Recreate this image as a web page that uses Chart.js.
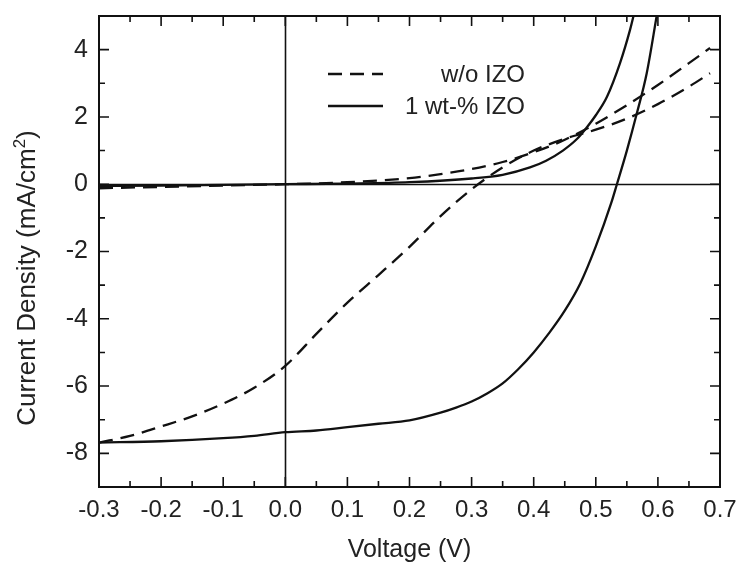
<!DOCTYPE html>
<html>
<head>
<meta charset="utf-8">
<script src="https://cdn.jsdelivr.net/npm/chart.js@4"></script>
<style>
  body { margin: 0; background: #fff; }
  canvas { display: block; }
</style>
</head>
<body>
<canvas id="jv" width="738" height="563"></canvas>
<script>
// tick values
const xTicks = [-0.3, -0.2, -0.1, 0.0, 0.1, 0.2, 0.3, 0.4, 0.5, 0.6, 0.7];
const yTicks = [-8, -6, -4, -2, 0, 2, 4];

// w/o IZO, dark
const darkRefV = [-0.3, -0.2, -0.1, 0, 0.1, 0.2, 0.25, 0.3, 0.35, 0.4, 0.45, 0.5, 0.55, 0.6, 0.65, 0.684];
const darkRefJ = [-0.12, -0.08, -0.04, 0, 0.06, 0.18, 0.3, 0.45, 0.66, 0.95, 1.32, 1.8, 2.35, 2.95, 3.6, 4.05];

// w/o IZO, illuminated
const lightRefV = [-0.3, -0.25, -0.2, -0.15, -0.1, -0.05, 0, 0.05, 0.1, 0.15, 0.2, 0.25, 0.3, 0.35, 0.4, 0.45, 0.5, 0.55, 0.6, 0.65, 0.684];
const lightRefJ = [-7.68, -7.48, -7.2, -6.9, -6.52, -6.05, -5.4, -4.45, -3.52, -2.7, -1.86, -0.95, -0.15, 0.5, 1.0, 1.35, 1.62, 1.95, 2.38, 2.9, 3.3];

// 1 wt-% IZO, dark
const darkIzoV = [-0.3, -0.2, -0.1, 0, 0.1, 0.2, 0.3, 0.35, 0.394, 0.42, 0.447, 0.47, 0.486, 0.5, 0.518, 0.539, 0.555, 0.562, 0.572];
const darkIzoJ = [-0.05, -0.04, -0.02, 0, 0.02, 0.06, 0.17, 0.28, 0.5, 0.7, 1.0, 1.35, 1.7, 2.05, 2.6, 3.6, 4.58, 5.1, 5.9];

// 1 wt-% IZO, illuminated
const lightIzoV = [-0.3, -0.2, -0.1, -0.05, 0, 0.05, 0.1, 0.15, 0.2, 0.25, 0.275, 0.3, 0.325, 0.35, 0.375, 0.4, 0.425, 0.45, 0.475, 0.5, 0.525, 0.534, 0.55, 0.566, 0.582, 0.598, 0.61];
const lightIzoJ = [-7.68, -7.64, -7.55, -7.48, -7.37, -7.32, -7.22, -7.12, -7.02, -6.79, -6.64, -6.46, -6.22, -5.92, -5.5, -5.0, -4.42, -3.76, -2.95, -1.85, -0.55, 0, 1.0, 2.1, 3.3, 5.0, 6.3];

const legendNames = ['w/o IZO', '1 wt-% IZO'];

const ink = '#111';
const textInk = '#222';
const dash = [14, 8];
const fontFam = '"Liberation Sans", Arial, sans-serif';

function pts(vs, js) {
    return vs.map((v, i) => ({ x: v, y: js[i] }));
}

function line(vs, js, dashed) {
    return {
        data: pts(vs, js),
        showLine: true,
        borderColor: ink,
        borderWidth: 2.3,
        borderDash: dashed ? dash : [],
        pointRadius: 0,
        cubicInterpolationMode: 'monotone',
        fill: false
    };
}

/* -------- frame, zero lines, ticks, legend, y title -------- */
const framePlugin = {
    id: 'frame',
    beforeDatasetsDraw(chart) {
        const { ctx, chartArea: a, scales: { x, y } } = chart;
        ctx.save();
        ctx.strokeStyle = ink;
        ctx.lineWidth = 1.6;
        const x0 = Math.round(x.getPixelForValue(0)) + 0.5;
        const y0 = Math.round(y.getPixelForValue(0)) + 0.5;
        ctx.beginPath();
        ctx.moveTo(x0, a.top); ctx.lineTo(x0, a.bottom);
        ctx.moveTo(a.left, y0); ctx.lineTo(a.right, y0);
        ctx.stroke();
        ctx.restore();
    },
    afterDraw(chart) {
        const { ctx, chartArea: a, scales: { x, y } } = chart;
        ctx.save();
        ctx.strokeStyle = ink;
        ctx.lineWidth = 2;
        ctx.strokeRect(a.left, a.top, a.right - a.left, a.bottom - a.top);

        ctx.lineWidth = 1.6;
        ctx.beginPath();
        // x ticks every 0.05, major every 0.1
        for (let i = -6; i <= 14; i++) {
            const px = x.getPixelForValue(i * 0.05);
            const len = i % 2 === 0 ? 10 : 6;
            ctx.moveTo(px, a.bottom); ctx.lineTo(px, a.bottom - len);
            ctx.moveTo(px, a.top); ctx.lineTo(px, a.top + len);
        }
        // y ticks every 1, major every 2
        for (let v = -9; v <= 5; v++) {
            const py = y.getPixelForValue(v);
            const len = v % 2 === 0 ? 10 : 6;
            ctx.moveTo(a.left, py); ctx.lineTo(a.left + len, py);
            ctx.moveTo(a.right, py); ctx.lineTo(a.right - len, py);
        }
        ctx.stroke();

        // legend
        const lx1 = 328, lx2 = 383, tx = 525;
        const rows = [74, 106];
        ctx.lineWidth = 2.3;
        rows.forEach((ry, i) => {
            ctx.setLineDash(i === 0 ? dash : []);
            ctx.beginPath();
            ctx.moveTo(lx1, ry); ctx.lineTo(lx2, ry);
            ctx.stroke();
        });
        ctx.setLineDash([]);
        ctx.fillStyle = textInk;
        ctx.font = '24px ' + fontFam;
        ctx.textAlign = 'right';
        ctx.textBaseline = 'middle';
        rows.forEach((ry, i) => ctx.fillText(legendNames[i], tx, ry + 1));

        // y axis title with superscript
        const main = 'Current Density (mA/cm';
        const big = '26px ' + fontFam, small = '17px ' + fontFam;
        ctx.font = big;
        const w1 = ctx.measureText(main).width;
        const w3 = ctx.measureText(')').width;
        ctx.font = small;
        const w2 = ctx.measureText('2').width;
        const total = w1 + w2 + w3;
        ctx.translate(35, 278);
        ctx.rotate(-Math.PI / 2);
        ctx.textAlign = 'left';
        ctx.textBaseline = 'alphabetic';
        ctx.font = big;
        ctx.fillText(main, -total / 2, 0);
        ctx.font = small;
        ctx.fillText('2', -total / 2 + w1, -10);
        ctx.font = big;
        ctx.fillText(')', -total / 2 + w1 + w2, 0);
        ctx.restore();
    }
};

new Chart(document.getElementById('jv'), {
    type: 'scatter',
    data: {
        datasets: [
            line(darkRefV, darkRefJ, true),
            line(lightRefV, lightRefJ, true),
            line(darkIzoV, darkIzoJ, false),
            line(lightIzoV, lightIzoJ, false)
        ]
    },
    options: {
        responsive: false,
        animation: false,
        layout: { padding: { left: 0, top: 16, right: 18, bottom: 0 } },
        plugins: { legend: { display: false }, tooltip: { enabled: false } },
        scales: {
            x: {
                type: 'linear',
                min: -0.3,
                max: 0.7,
                grid: { display: false, drawTicks: false },
                border: { display: false },
                afterBuildTicks: s => { s.ticks = xTicks.map(v => ({ value: v })); },
                afterFit: s => { s.height = 76; s.paddingLeft = 0; s.paddingRight = 0; },
                ticks: {
                    padding: 9,
                    color: textInk,
                    font: { family: fontFam, size: 24 },
                    callback: v => v.toFixed(1)
                },
                title: {
                    display: true,
                    text: 'Voltage (V)',
                    color: textInk,
                    font: { family: fontFam, size: 25, lineHeight: 1 },
                    padding: { top: 0, bottom: 0 }
                }
            },
            y: {
                min: -9,
                max: 5,
                grid: { display: false, drawTicks: false },
                border: { display: false },
                afterBuildTicks: s => { s.ticks = yTicks.map(v => ({ value: v })); },
                afterFit: s => { s.width = 99; s.paddingTop = 0; s.paddingBottom = 0; },
                ticks: {
                    padding: 11,
                    color: textInk,
                    font: { family: fontFam, size: 25 },
                    callback: v => String(v)
                }
            }
        }
    },
    plugins: [framePlugin]
});
</script>
</body>
</html>
